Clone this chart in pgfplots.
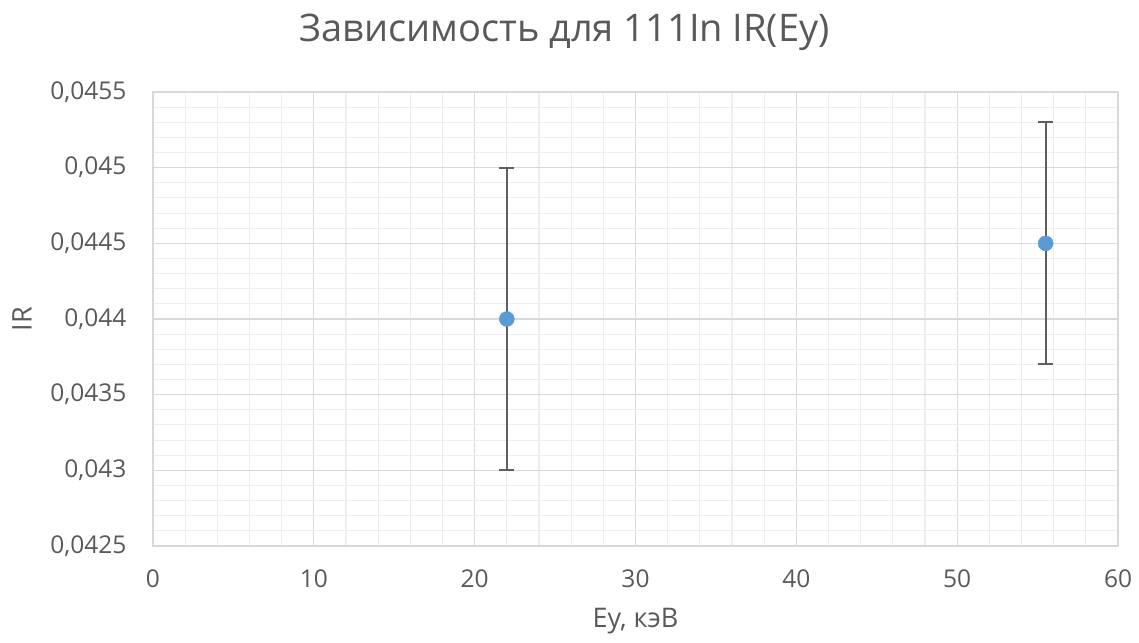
\documentclass[border=0pt]{standalone}
\usepackage{pgfplots}
\pgfplotsset{compat=1.18}
\usepackage{fontspec}
\setmainfont{Open Sans}
\definecolor{txt}{RGB}{89,89,89}
\definecolor{majg}{RGB}{217,217,217}
\definecolor{ming}{RGB}{238,238,238}
\definecolor{ptblue}{RGB}{91,155,213}
\definecolor{errc}{RGB}{95,95,95}
\begin{document}
\begin{tikzpicture}
\begin{axis}[
  scale only axis,
  width=965pt, height=454pt,
  xmin=0, xmax=60, ymin=0.0425, ymax=0.0455,
  scaled y ticks=false, scaled x ticks=false,
  xtick={0,10,20,30,40,50,60},
  xticklabels={0,10,20,30,40,50,60},
  ytick={0.0425,0.043,0.0435,0.044,0.0445,0.045,0.0455},
  yticklabels={{0,0425},{0,043},{0,0435},{0,044},{0,0445},{0,045},{0,0455}},
  minor x tick num=4, minor y tick num=4,
  grid=both,
  major grid style={draw=majg, line width=1.3pt},
  minor grid style={draw=ming, line width=1.1pt},
  axis line style={draw=majg, line width=1.3pt},
  major tick length=0pt, minor tick length=0pt,
  tick style={draw=none},
  ticklabel style={font=\fontsize{24.5}{28}\selectfont, text=txt},
  yticklabel style={xshift=-23pt},
  xticklabel style={yshift=-20pt},
  xlabel={Ey, кэВ}, ylabel={IR},
  label style={font=\fontsize{27}{30}\selectfont, text=txt},
  xlabel style={at={(axis description cs:0.5,-0.165)}, anchor=center},
  ylabel style={at={(axis description cs:-0.1358,0.5)}, anchor=center},
  clip=false,
]
\addplot[draw=none, mark=none,
  error bars/.cd, y dir=both, y explicit,
  error bar style={draw=errc, line width=2pt},
  error mark options={rotate=90, mark size=7.5pt, draw=errc, line width=2pt}]
  table[x=x, y=y, y error=e] {
x y e
22 0.044 0.001
55.5 0.0445 0.0008
};
\addplot[only marks, mark=*, mark size=7.5pt, mark options={fill=ptblue, draw=ptblue}]
  table[x=x, y=y] {
x y
22 0.044
55.5 0.0445
};
\end{axis}
\node[font=\fontsize{38}{42}\selectfont, text=txt] at (411.5pt,514pt) {Зависимость для 111In IR(Ey)};
\pgfresetboundingbox
\path[use as bounding box] (-153pt,-96pt) rectangle (986pt,546pt);
\end{tikzpicture}
\end{document}
